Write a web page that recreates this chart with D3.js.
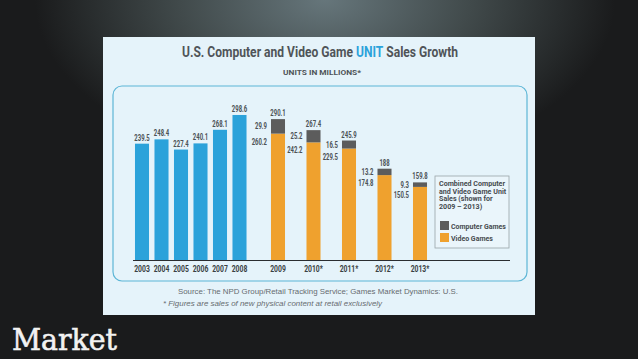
<!DOCTYPE html>
<html><head><meta charset="utf-8">
<script src="https://cdn.jsdelivr.net/npm/d3@7/dist/d3.min.js"></script>
<style>html,body{margin:0;padding:0;background:#1c1d1e;overflow:hidden}</style>
</head><body>
<script>
// ---- data ----
const yearsA = ["2003","2004","2005","2006","2007","2008"];
const unitsA = [239.5, 248.4, 227.4, 240.1, 268.1, 298.6];
const yearsB = ["2009","2010*","2011*","2012*","2013*"];
const computerB = [29.9, 25.2, 16.5, 13.2, 9.3];
const videoB = [260.2, 242.2, 229.5, 174.8, 150.5];
const totalsB = [290.1, 267.4, 245.9, 188, 159.8];
const legendLines = ["Combined Computer","and Video Game Unit","Sales (shown for","2009 – 2013)"];
const legendKeys = ["Computer Games","Video Games"];

const W = 638, H = 359;
const BLUE = "#2ba2da", ORANGE = "#efa12e", GRAY = "#5c5c5c", TXT = "#4c5256";
const COND = "Roboto, 'DejaVu Sans', sans-serif";

const svg = d3.select("body").append("svg").attr("width", W).attr("height", H);
const defs = svg.append("defs");
const rg = defs.append("radialGradient").attr("id","bg").attr("gradientUnits","userSpaceOnUse")
  .attr("cx",0).attr("cy",0).attr("r",1)
  .attr("gradientTransform","translate(325,0) scale(290,170)");
rg.append("stop").attr("offset","0").attr("stop-color","#66767b");
rg.append("stop").attr("offset","0.5").attr("stop-color","#414a4b");
rg.append("stop").attr("offset","1").attr("stop-color","#1a1b1c");
svg.append("rect").attr("width",W).attr("height",H).attr("fill","url(#bg)");

// card
svg.append("rect").attr("x",103).attr("y",37).attr("width",432).attr("height",278).attr("fill","#e5f3fa");
svg.append("rect").attr("x",113).attr("y",86).attr("width",414).attr("height",195).attr("rx",9)
  .attr("fill","none").attr("stroke","#5db6d6").attr("stroke-width",1.2);

function ct(sel, x, y, str, o) {
  o = o || {};
  return sel.append("text")
    .attr("transform", `translate(${x},${y}) scale(${o.sx || 0.7},1)`)
    .attr("text-anchor", o.anchor || "middle")
    .attr("font-size", o.size || 8.5)
    .attr("font-weight", "bold")
    .attr("font-family", COND)
    .attr("fill", o.fill || TXT)
    .text(str);
}
// squeeze a text horizontally so it spans the wanted width
function squeeze(t, x, y, wanted) {
  const w = t.node().getComputedTextLength();
  const s = wanted / w;
  t.attr("transform", `translate(${x},${y}) scale(${s},1)`);
  return s;
}

// title
const title = svg.append("text").attr("text-anchor","middle")
  .attr("font-family",COND).attr("font-weight","bold").attr("font-size",15).attr("fill","#4f5458");
title.append("tspan").text("U.S. Computer and Video Game ");
title.append("tspan").attr("fill",BLUE).text("UNIT");
title.append("tspan").text(" Sales Growth");
squeeze(title, 320, 57, 276);
const sub = svg.append("text").attr("text-anchor","middle")
  .attr("font-family",COND).attr("font-weight","bold").attr("font-size",7.5).attr("fill","#4f5458")
  .text("UNITS IN MILLIONS*");
squeeze(sub, 322, 74.5, 78);

// scales
const y = d3.scaleLinear().domain([0, 300]).range([260, 114.3]);
const xA = d3.scaleBand().domain(yearsA).range([132.25, 249.25]).paddingInner(0.28).paddingOuter(0.14);
const xB = d3.scaleBand().domain(yearsB).range([260.25, 437.75]).paddingInner(0.605).paddingOuter(0.3025);

const g = svg.append("g");
const VL = {size: 9, sx: 0.66};
// blue bars
g.selectAll(".ba").data(yearsA).join("rect")
  .attr("x", d => xA(d)).attr("width", xA.bandwidth())
  .attr("y", (d,i) => y(unitsA[i])).attr("height", (d,i) => y(0) - y(unitsA[i]))
  .attr("fill", BLUE);
yearsA.forEach((d,i) => ct(g, xA(d) + xA.bandwidth()/2, y(unitsA[i]) - 3, unitsA[i].toFixed(1), VL));

// stacked bars
yearsB.forEach((d,i) => {
  const x0 = xB(d), bw = xB.bandwidth();
  const vTop = y(videoB[i]), cTop = y(videoB[i] + computerB[i]);
  g.append("rect").attr("x",x0).attr("width",bw).attr("y",vTop).attr("height",y(0)-vTop).attr("fill",ORANGE);
  g.append("rect").attr("x",x0).attr("width",bw).attr("y",cTop).attr("height",vTop-cTop).attr("fill",GRAY);
  ct(g, x0 + bw/2, cTop - 3, String(totalsB[i]), VL);
  const cb = (cTop + vTop)/2 + 3;
  ct(g, x0 - 4, cb, computerB[i].toFixed(1), {anchor:"end", size:VL.size, sx:VL.sx});
  ct(g, x0 - 4, Math.max(vTop + 11, cb + 8.5), videoB[i].toFixed(1), {anchor:"end", size:VL.size, sx:VL.sx});
});

// axis
g.append("line").attr("x1",133).attr("x2",510).attr("y1",y(0)+0.5).attr("y2",y(0)+0.5)
  .attr("stroke","#2a2d30").attr("stroke-width",1);
function styleAxis(a) {
  a.select(".domain").remove();
  a.selectAll(".tick line").remove();
  a.selectAll(".tick text").attr("font-family",COND).attr("font-weight","bold").attr("font-size",8.5)
    .attr("fill","#3a3f43").attr("y",0).attr("dy",0).attr("transform","translate(0,11.5) scale(0.8,1)");
}
g.append("g").attr("transform",`translate(0,${y(0)})`).call(d3.axisBottom(xA).tickSize(0)).call(styleAxis);
g.append("g").attr("transform",`translate(0,${y(0)})`).call(d3.axisBottom(xB).tickSize(0)).call(styleAxis);

// legend
const lg = svg.append("g");
lg.append("rect").attr("x",435).attr("y",176).attr("width",74).attr("height",72)
  .attr("fill","#eaf5fb").attr("stroke","#9aa3a8").attr("stroke-width",0.8);
const LS = 7.2, LH = 7.6, L0 = 186;
const first = ct(lg, 439, L0, legendLines[0], {anchor:"start", size:LS, sx:1, fill:"#464b4f"});
const ls = squeeze(first, 439, L0, 66);
legendLines.slice(1).forEach((t,i) => ct(lg, 439, L0 + (i+1)*LH, t, {anchor:"start", size:LS, sx:ls, fill:"#464b4f"}));
let ks = 1;
[GRAY, ORANGE].forEach((c,i) => {
  lg.append("rect").attr("x",440).attr("y",221 + i*12).attr("width",9).attr("height",9).attr("fill",c);
  const t = ct(lg, 451, 228.5 + i*12, legendKeys[i], {anchor:"start", size:7.8, sx:ks, fill:"#464b4f"});
  if (i === 0) ks = squeeze(t, 451, 228.5, 55);
});

// source
svg.append("text").attr("x",318).attr("y",294).attr("text-anchor","middle")
  .attr("font-family","'Liberation Sans', Arial, sans-serif").attr("font-size",8).attr("fill","#666b6f")
  .attr("textLength",280).attr("lengthAdjust","spacingAndGlyphs")
  .text("Source: The NPD Group/Retail Tracking Service; Games Market Dynamics: U.S.");
svg.append("text").attr("x",163).attr("y",306).attr("font-style","italic")
  .attr("font-family","'Liberation Sans', Arial, sans-serif").attr("font-size",8).attr("fill","#666b6f")
  .attr("textLength",219).attr("lengthAdjust","spacingAndGlyphs")
  .text("*  Figures are sales of new physical content at retail exclusively");

// slide caption
svg.append("text").attr("x",12).attr("y",350).attr("font-family","'DejaVu Serif', serif")
  .attr("font-size",29).attr("fill","#f2f2f2").attr("stroke","#f2f2f2").attr("stroke-width",0.6)
  .attr("textLength",105).attr("lengthAdjust","spacingAndGlyphs")
  .text("Market");
</script>
</body></html>
